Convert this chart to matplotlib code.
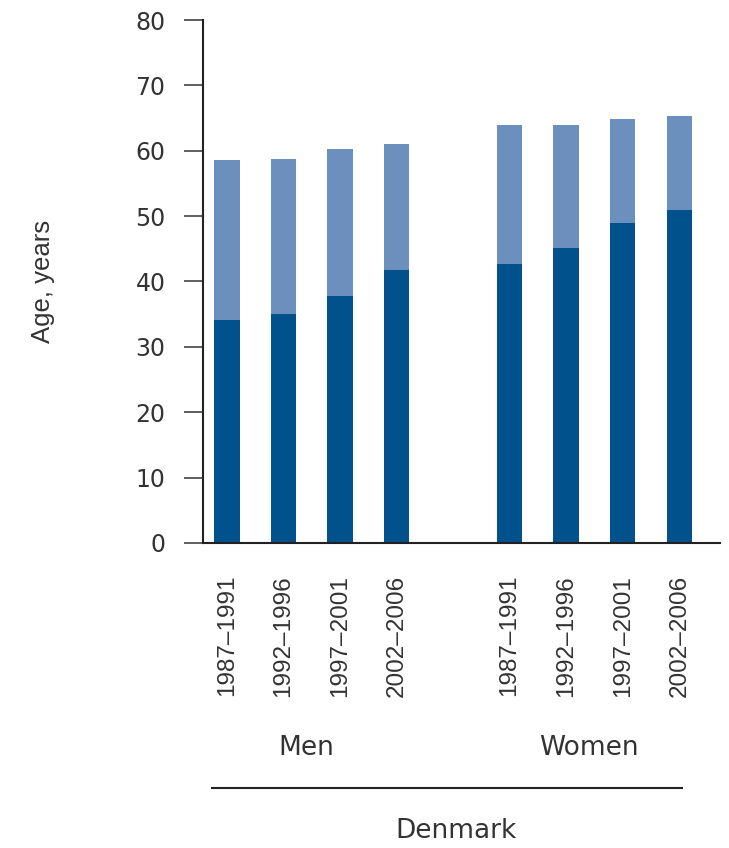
import numpy as np
import matplotlib
matplotlib.use("Agg")
from matplotlib import pyplot as plt

# values
periods = ["1987\u20131991", "1992\u20131996", "1997\u20132001", "2002\u20132006"]
groups = ["Men", "Women"]
men_dark = [34.1, 35.0, 37.8, 41.7]
men_total = [58.6, 58.8, 60.2, 61.0]
women_dark = [42.6, 45.1, 49.0, 51.0]
women_total = [63.9, 63.9, 64.8, 65.3]
yticks = [0, 10, 20, 30, 40, 50, 60, 70, 80]

dark = "#00518c"
light = "#6b90bd"
txt = "#333333"
narrow = ["Liberation Sans Narrow", "Liberation Sans", "DejaVu Sans"]
wide = ["DejaVu Sans"]

plt.rcParams['font.family'] = ["Liberation Sans", "DejaVu Sans"]

fig = plt.figure(figsize=(7.29, 8.48), dpi=100)
ax = fig.add_axes([0.2785, 0.3597, 0.9877 - 0.2785, 0.9764 - 0.3597])

x = np.array([0, 1, 2, 3, 5, 6, 7, 8], dtype=float)
dark_vals = np.array(men_dark + women_dark)
total_vals = np.array(men_total + women_total)
w = 0.45
ax.bar(x, dark_vals, width=w, color=dark, linewidth=0)
ax.bar(x, total_vals - dark_vals, bottom=dark_vals, width=w, color=light, linewidth=0)

ax.set_xlim(-0.42, 8.72)
ax.set_ylim(0, 80)
for s in ["top", "right"]:
    ax.spines[s].set_visible(False)
ax.spines["left"].set_linewidth(1.5)
ax.spines["bottom"].set_linewidth(1.5)
ax.spines["left"].set_color("#222222")
ax.spines["bottom"].set_color("#222222")

ax.set_yticks(yticks)
ax.set_yticklabels([str(v) for v in yticks], fontsize=17, color=txt, family=wide)
ax.tick_params(axis="y", length=14, width=1.2, pad=13, colors="#444444", labelcolor=txt)

ax.set_xticks(x)
ax.set_xticklabels(periods * 2, rotation=90, fontsize=17.5, color=txt, family=narrow)
ax.tick_params(axis="x", length=0, pad=23)

ax.set_ylabel("Age, years", fontsize=18.5, color=txt, family=narrow, labelpad=58)

# group labels and country line below the axis
for gx, g in zip([1.4, 6.4], groups):
    ax.text(gx, -31.3, g, ha="center", va="center", fontsize=19, color=txt,
            family=wide, clip_on=False)
ax.plot([-0.26, 8.04], [-37.5, -37.5], color="#222222", lw=1.5, clip_on=False)
ax.text(4.05, -44.0, "Denmark", ha="center", va="center", fontsize=19, color=txt,
        family=wide, clip_on=False)

fig.savefig("out.png", dpi=100)
